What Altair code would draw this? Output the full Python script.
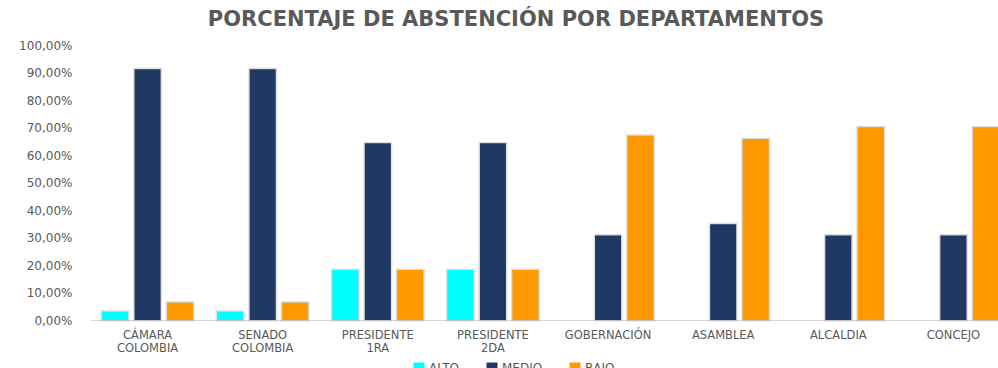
import altair as alt
import pandas as pd

categories = ["CÁMARA COLOMBIA", "SENADO COLOMBIA", "PRESIDENTE 1RA", "PRESIDENTE 2DA",
              "GOBERNACIÓN", "ASAMBLEA", "ALCALDIA", "CONCEJO"]
series = ["ALTO", "MEDIO", "BAJO"]
colors = ["#00FFFF", "#1F3864", "#FF9900"]
alto = [0.030, 0.030, 0.182, 0.182, None, None, None, None]
medio = [0.912, 0.912, 0.643, 0.643, 0.307, 0.348, 0.307, 0.307]
bajo = [0.063, 0.063, 0.182, 0.182, 0.670, 0.658, 0.701, 0.701]

rows = []
for name, vals in zip(series, [alto, medio, bajo]):
    for c, v in zip(categories, vals):
        if v is not None:
            rows.append({"cat": c, "serie": name, "valor": v})
df = pd.DataFrame(rows)

GRAY = "#595959"
FONT = "DejaVu Sans"

x_enc = alt.X("cat:N", sort=categories,
              scale=alt.Scale(range=[0, 921], paddingInner=0.21, paddingOuter=0.105),
              axis=alt.Axis(title=None, labelAngle=0, ticks=False, domainColor="#D9D9D9",
                            labelExpr="split(datum.label, ' ')", labelPadding=9,
                            labelFont=FONT, labelFontSize=11.5, labelColor=GRAY,
                            labelLineHeight=13, labelOverlap=False, labelFlush=False,
                            labelBound=False, grid=False))
xo_enc = alt.XOffset("serie:N", sort=series, scale=alt.Scale(domain=series, paddingInner=0.2))
y_enc = alt.Y("valor:Q", scale=alt.Scale(domain=[0, 1]),
              axis=alt.Axis(title=None, values=[i / 10 for i in range(11)],
                            labelExpr="replace(format(datum.value, '.2%'), '.', ',')",
                            domain=False, ticks=False, grid=False, labelPadding=18,
                            labelFont=FONT, labelFontSize=12, labelColor=GRAY))

base = alt.Chart(df).encode(x=x_enc, xOffset=xo_enc, y=y_enc)

shadow = base.mark_bar(fill="#7f7f7f", fillOpacity=0.35, stroke="#7f7f7f",
                       strokeWidth=3, strokeOpacity=0.25, xOffset=1.5)

bars = base.mark_bar().encode(
    color=alt.Color("serie:N", sort=series,
                    scale=alt.Scale(domain=series, range=colors),
                    legend=alt.Legend(title=None, orient="none", legendX=323, legendY=317,
                                      direction="horizontal", symbolType="square",
                                      symbolSize=121, symbolStrokeWidth=0,
                                      labelFont=FONT, labelFontSize=12, labelColor=GRAY,
                                      labelOffset=4, columnPadding=26, padding=0))
)

chart = alt.layer(shadow, bars).properties(
    width=908, height=275,
    padding={"left": 90, "top": 45, "right": 0, "bottom": 48},
    autosize=alt.AutoSizeParams(type="none"),
    title=alt.TitleParams("PORCENTAJE DE ABSTENCIÓN POR DEPARTAMENTOS",
                          font=FONT, fontSize=21, fontWeight="bold", color=GRAY,
                          anchor="middle", frame="group", dx=-28, offset=9),
).configure_view(stroke=None)

chart.save("out.html", embed_options={"renderer": "svg", "actions": False})
